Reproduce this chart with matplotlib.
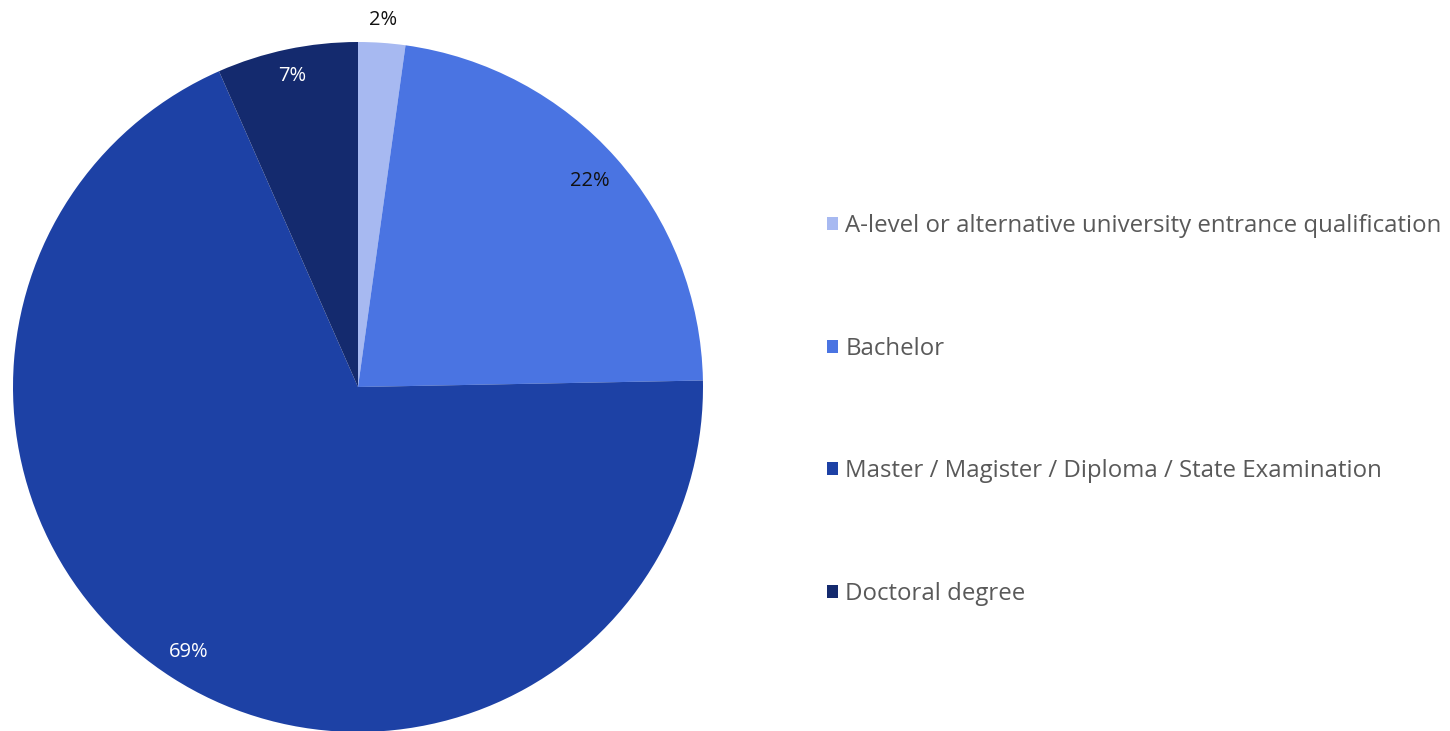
import matplotlib.pyplot as plt
import numpy as np

categories = [
    "A-level or alternative university entrance qualification",
    "Bachelor",
    "Master / Magister / Diploma / State Examination",
    "Doctoral degree",
]
shares = [2.2, 22.5, 68.7, 6.6]
labels = ["2%", "22%", "69%", "7%"]
colors = ["#a7b9f1", "#4a74e2", "#1d41a5", "#142a6e"]
label_colors = ["#111111", "#111111", "white", "white"]

plt.rcParams["font.family"] = ["Open Sans", "DejaVu Sans"]

fig = plt.figure(figsize=(14.5, 7.31), dpi=100)
# pie centred at (358, 387) px with radius 345 px
ax = fig.add_axes([13 / 1450, -1 / 731, 690 / 1450, 690 / 731])
wedges, texts = ax.pie(shares, colors=colors, startangle=90, counterclock=False,
                       radius=1, wedgeprops={"linewidth": 0})
ax.set_xlim(-1, 1)
ax.set_ylim(-1, 1)
ax.set_aspect("equal")

for i, w in enumerate(wedges):
    mid = np.deg2rad((w.theta1 + w.theta2) / 2)
    r = [1.065, 0.9, 0.91, 0.92][i]
    ax.text(r * np.cos(mid), r * np.sin(mid), labels[i], ha="center", va="center",
            fontsize=14.5, color=label_colors[i])

fig.legend(wedges, categories, loc="center left",
           bbox_to_anchor=(827 / 1450, 1 - 410 / 731), frameon=False,
           fontsize=17.3, labelcolor="#595959", labelspacing=4.1,
           handlelength=0.46, handleheight=0.46, handletextpad=0.3,
           borderpad=0, borderaxespad=0)

fig.savefig("out.png", dpi=100)
